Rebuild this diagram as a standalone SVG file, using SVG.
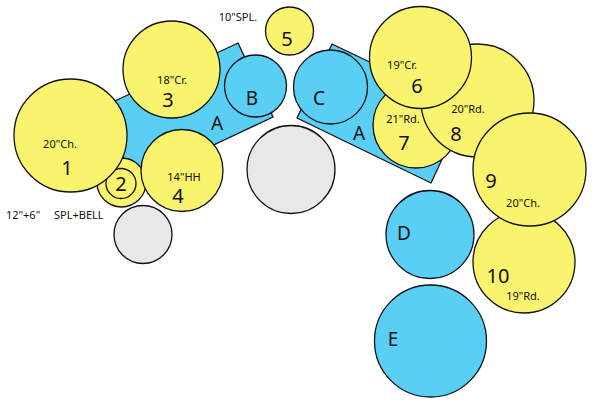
<svg xmlns="http://www.w3.org/2000/svg" width="600" height="404" viewBox="0 0 600 404">
<style>
.y{fill:#f9f36e;stroke:#111;stroke-width:1.3}
.b{fill:#5acff6;stroke:#111;stroke-width:1.3}
.g{fill:#e8e8e8;stroke:#111;stroke-width:1.3}
text{font-family:"Noto Sans","DejaVu Sans",sans-serif;fill:#111;text-anchor:middle}
.s{font-size:11px}
.n{font-size:20px}
.l{font-size:19px}
.st{text-anchor:start}
</style>
<rect width="600" height="404" fill="#fff"/>
<g id="rackA-left"><polygon class="b" points="100,108 238,43 273,117 135,182"/><text class="l" x="217" y="130">A</text></g>
<g id="rackA-right"><polygon class="b" points="332,44 466,108 431,183 297,118"/><text class="l" x="359" y="140">A</text></g>
<g id="grey-center"><circle class="g" cx="291" cy="169.5" r="44"/></g>
<g id="grey-left"><circle class="g" cx="143" cy="234.5" r="29"/></g>
<g id="cymbal2"><circle class="y" cx="121.5" cy="182.5" r="24.5"/><circle class="y" cx="121" cy="183.5" r="15"/><text class="n" x="121" y="190.5">2</text></g>
<g id="cymbal1"><circle class="y" cx="70.5" cy="135.5" r="56.5"/><text class="s" x="60" y="148">20"Ch.</text><text class="n" x="67" y="175">1</text></g>
<g id="cymbal3"><circle class="y" cx="171.5" cy="69.5" r="48.5"/><text class="s" x="172" y="84">18"Cr.</text><text class="n" x="168" y="107">3</text></g>
<g id="cymbal4"><circle class="y" cx="182" cy="170.5" r="41"/><text class="s" x="184" y="181">14"HH</text><text class="n" x="178" y="203">4</text></g>
<g id="tomB"><circle class="b" cx="255.5" cy="86" r="31"/><text class="l" x="252" y="105">B</text></g>
<g id="cymbal5"><circle class="y" cx="289.5" cy="31" r="24"/><text class="n" x="287" y="46">5</text></g>
<text class="s" x="238" y="21">10"SPL.</text>
<g id="tomC"><circle class="b" cx="330.5" cy="87" r="37"/><text class="l" x="319" y="105">C</text></g>
<g id="cymbal7"><circle class="y" cx="416" cy="125" r="43"/><text class="s" x="403" y="123">21"Rd.</text><text class="n" x="404" y="150">7</text></g>
<g id="cymbal8"><circle class="y" cx="477.5" cy="100.5" r="56.5"/><text class="s" x="468" y="113">20"Rd.</text><text class="n" x="456" y="141">8</text></g>
<g id="cymbal6"><circle class="y" cx="420.5" cy="57.5" r="51"/><text class="s" x="402" y="69">19"Cr.</text><text class="n" x="417" y="93">6</text></g>
<g id="cymbal10"><circle class="y" cx="524" cy="262" r="51"/><text class="s" x="523" y="300">19"Rd.</text><text class="n" x="498" y="283">10</text></g>
<g id="cymbal9"><circle class="y" cx="529.5" cy="169.5" r="56.5"/><text class="n" x="491" y="188">9</text><text class="s" x="523" y="207">20"Ch.</text></g>
<g id="tomD"><circle class="b" cx="430" cy="234.5" r="44"/><text class="l" x="404" y="240">D</text></g>
<g id="tomE"><circle class="b" cx="430.5" cy="341" r="56"/><text class="l" x="393" y="346">E</text></g>
<text class="s st" x="6" y="219">12"+6"</text>
<text class="s st" x="54" y="219">SPL+BELL</text>
<g id="connectors"/>
</svg>
